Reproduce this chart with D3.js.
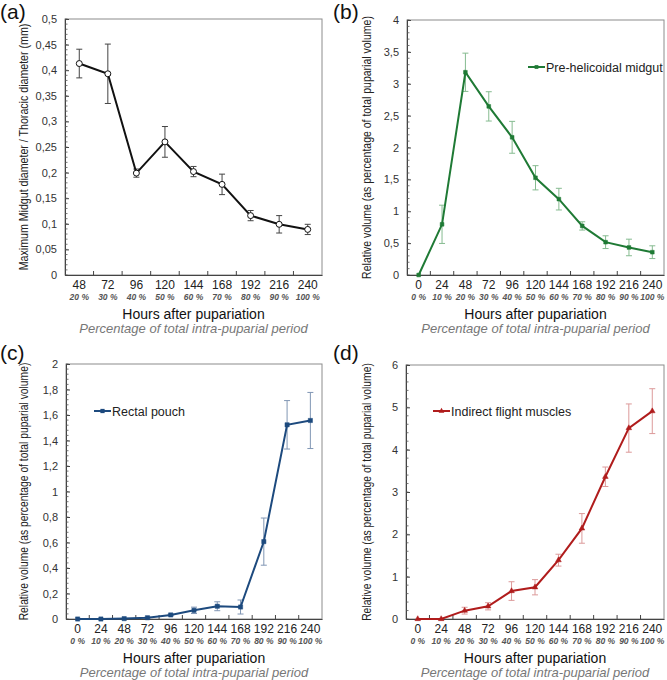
<!DOCTYPE html>
<html><head><meta charset="utf-8">
<script src="https://cdn.jsdelivr.net/npm/d3@7"></script>
<style>body{margin:0;background:#fff}svg{display:block;font-family:"Liberation Sans",Arial,sans-serif}</style>
</head><body>
<svg id="c" width="667" height="680"></svg>
<script>
// ---- data ----
const hoursA = ["48","72","96","120","144","168","192","216","240"];
const pctA = ["20 %","30 %","40 %","50 %","60 %","70 %","80 %","90 %","100 %"];
const hours = ["0","24","48","72","96","120","144","168","192","216","240"];
const pct = ["0 %","10 %","20 %","30 %","40 %","50 %","60 %","70 %","80 %","90 %","100 %"];

const ratioMean = [0.413,0.393,0.199,0.260,0.202,0.177,0.116,0.099,0.089];
const ratioErr  = [0.028,0.058,0.008,0.030,0.010,0.020,0.010,0.017,0.010];

const midgutMean = [0,0.795,3.18,2.645,2.16,1.525,1.19,0.77,0.515,0.432,0.358];
const midgutErr  = [0,0.30,0.30,0.23,0.25,0.19,0.17,0.065,0.10,0.13,0.10];

const rectalMean = [0,0,0.003,0.01,0.032,0.068,0.10,0.094,0.607,1.523,1.557];
const rectalErr  = [0,0,0,0.004,0.006,0.025,0.035,0.055,0.185,0.19,0.22];

const muscleMean = [0,0,0.197,0.30,0.66,0.75,1.39,2.14,3.36,4.51,4.91];
const muscleErr  = [0,0,0.08,0.085,0.22,0.18,0.14,0.35,0.23,0.57,0.53];

const yTicksA = [0,0.05,0.1,0.15,0.2,0.25,0.3,0.35,0.4,0.45,0.5];
const yTicksB = [0,0.5,1,1.5,2,2.5,3,3.5,4];
const yTicksC = [0,0.2,0.4,0.6,0.8,1,1.2,1.4,1.6,1.8,2];
const yTicksD = [0,1,2,3,4,5,6];

const xTitle = "Hours after pupariation";
const xSub = "Percentage of total intra-puparial period";
const yTitleA = "Maximum Midgut diameter / Thoracic diameter (mm)";
const yTitleV = "Relative volume (as percentage of total puparial volume)";

const svg = d3.select("#c");
const fmt = d => String(+d.toFixed(2)).replace(".", ",");

function panel(o){
  const g = svg.append("g");
  const x = d3.scaleBand().domain(o.cats).range([o.x0, o.x1]);
  const y = d3.scaleLinear().domain([0, o.ymax]).range([o.y1, o.y0]);
  // box
  g.append("rect").attr("x",o.x0).attr("y",o.y0).attr("width",o.x1-o.x0).attr("height",o.y1-o.y0)
    .attr("fill","none").attr("stroke","#8c8c8c").attr("stroke-width",1);
  // y axis
  const ya = g.append("g").attr("transform",`translate(${o.x0},0)`)
    .call(d3.axisLeft(y).tickValues(o.yticks).tickFormat(fmt).tickSizeInner(-4).tickSizeOuter(0).tickPadding(8));
  ya.select(".domain").attr("stroke","#444");
  ya.selectAll(".tick line").attr("stroke","#444");
  ya.selectAll("text").attr("font-size",11).attr("fill","#333").attr("font-family","Liberation Sans, Arial, sans-serif");
  // minor ticks
  const minor = d3.range(0, o.ymax + 1e-9, o.minor);
  g.append("g").selectAll("line").data(minor).join("line")
    .attr("x1",o.x0).attr("x2",o.x0+2.5).attr("y1",d=>y(d)).attr("y2",d=>y(d)).attr("stroke","#555").attr("stroke-width",0.8);
  // x axis
  const xa = g.append("g").attr("transform",`translate(0,${o.y1})`)
    .call(d3.axisBottom(x).tickSize(0).tickPadding(5));
  xa.select(".domain").attr("stroke","#444");
  xa.selectAll("text").attr("font-size",12).attr("fill","#222").attr("font-family","Liberation Sans, Arial, sans-serif");
  // x boundary ticks (inward)
  const bounds = o.cats.slice(1).map(c => x(c));
  g.append("g").selectAll("line").data(bounds).join("line")
    .attr("x1",d=>d).attr("x2",d=>d).attr("y1",o.y1).attr("y2",o.y1-4).attr("stroke","#444");
  // percent labels
  g.append("g").selectAll("text").data(o.pcts).join("text")
    .attr("x",(d,i)=>x(o.cats[i])+x.bandwidth()/2).attr("y",o.y1+25)
    .attr("text-anchor","middle").attr("font-size",8.5).attr("font-style","italic").attr("font-weight","bold")
    .attr("fill","#555").text(d=>d);
  // titles
  const cx = (o.x0+o.x1)/2;
  g.append("text").attr("x",cx).attr("y",o.y1+44).attr("text-anchor","middle").attr("font-size",14).attr("fill","#111").text(xTitle);
  g.append("text").attr("x",cx).attr("y",o.y1+58).attr("text-anchor","middle").attr("font-size",13).attr("font-style","italic").attr("fill","#777").text(xSub);
  const yt = g.append("text").attr("text-anchor","middle").attr("font-size",13).attr("fill","#222").text(o.ytitle);
  const natural = yt.node().getComputedTextLength();
  const s = Math.min(1, o.ylen / natural);
  yt.attr("transform",`translate(${o.ytx},${(o.y0+o.y1)/2}) rotate(-90) scale(${s},1)`);
  g.append("text").attr("x",o.lx).attr("y",o.ly).attr("font-size",21).attr("fill","#111").text(o.letter);
  // data
  const pts = o.mean.map((m,i)=>({c:o.cats[i], m, e:o.err[i]}));
  const cxp = d => x(d.c)+x.bandwidth()/2;
  const eb = g.append("g").attr("stroke",o.errColor).attr("stroke-width",1);
  pts.filter(d=>d.e>0).forEach(d=>{
    eb.append("line").attr("x1",cxp(d)).attr("x2",cxp(d)).attr("y1",y(d.m-d.e)).attr("y2",y(d.m+d.e));
    eb.append("line").attr("x1",cxp(d)-3).attr("x2",cxp(d)+3).attr("y1",y(d.m-d.e)).attr("y2",y(d.m-d.e));
    eb.append("line").attr("x1",cxp(d)-3).attr("x2",cxp(d)+3).attr("y1",y(d.m+d.e)).attr("y2",y(d.m+d.e));
  });
  g.append("path").datum(pts).attr("fill","none").attr("stroke",o.color).attr("stroke-width",2)
    .attr("d",d3.line().x(cxp).y(d=>y(d.m)));
  const sym = d3.symbol().type(o.symbol).size(o.symSize);
  g.append("g").selectAll("path").data(pts).join("path")
    .attr("transform",d=>`translate(${cxp(d)},${y(d.m)})`).attr("d",sym)
    .attr("fill",o.open?"#fff":o.color).attr("stroke",o.color).attr("stroke-width",o.open?1:0.5);
  if(o.legend){
    const [lx,ly] = o.legendPos;
    g.append("line").attr("x1",lx).attr("x2",lx+17).attr("y1",ly).attr("y2",ly).attr("stroke",o.color).attr("stroke-width",2);
    g.append("path").attr("transform",`translate(${lx+8.5},${ly})`).attr("d",sym).attr("fill",o.color);
    g.append("text").attr("x",lx+18).attr("y",ly+4.5).attr("font-size",12.5).attr("fill","#222").text(o.legend);
  }
}

panel({cats:hoursA,pcts:pctA,mean:ratioMean,err:ratioErr,ymax:0.5,yticks:yTicksA,minor:0.01,
  x0:65,x1:322,y0:19,y1:275,ytx:28,ylen:247,ytitle:yTitleA,letter:"(a)",lx:0,ly:19,
  color:"#111",errColor:"#444",symbol:d3.symbolCircle,symSize:28,open:true});
panel({cats:hours,pcts:pct,mean:midgutMean,err:midgutErr,ymax:4,yticks:yTicksB,minor:0.1,
  x0:407,x1:664,y0:20,y1:275,ytx:371,ylen:263,ytitle:yTitleV,letter:"(b)",lx:333,ly:19,
  color:"#1f7a35",errColor:"#86bb90",symbol:d3.symbolSquare,symSize:14,legend:"Pre-helicoidal midgut",legendPos:[528,67]});
panel({cats:hours,pcts:pct,mean:rectalMean,err:rectalErr,ymax:2,yticks:yTicksC,minor:0.04,
  x0:66,x1:322,y0:364,y1:619,ytx:28,ylen:258,ytitle:yTitleV,letter:"(c)",lx:0,ly:360,
  color:"#1d4a7e",errColor:"#8096b4",symbol:d3.symbolSquare,symSize:18,legend:"Rectal pouch",legendPos:[94,411]});
panel({cats:hours,pcts:pct,mean:muscleMean,err:muscleErr,ymax:6,yticks:yTicksD,minor:0.2,
  x0:406,x1:664,y0:365,y1:619,ytx:371,ylen:258,ytitle:yTitleV,letter:"(d)",lx:333,ly:360,
  color:"#b01c1c",errColor:"#dc9a9a",symbol:d3.symbolTriangle,symSize:14,legend:"Indirect flight muscles",legendPos:[433,411]});
</script>
</body></html>
